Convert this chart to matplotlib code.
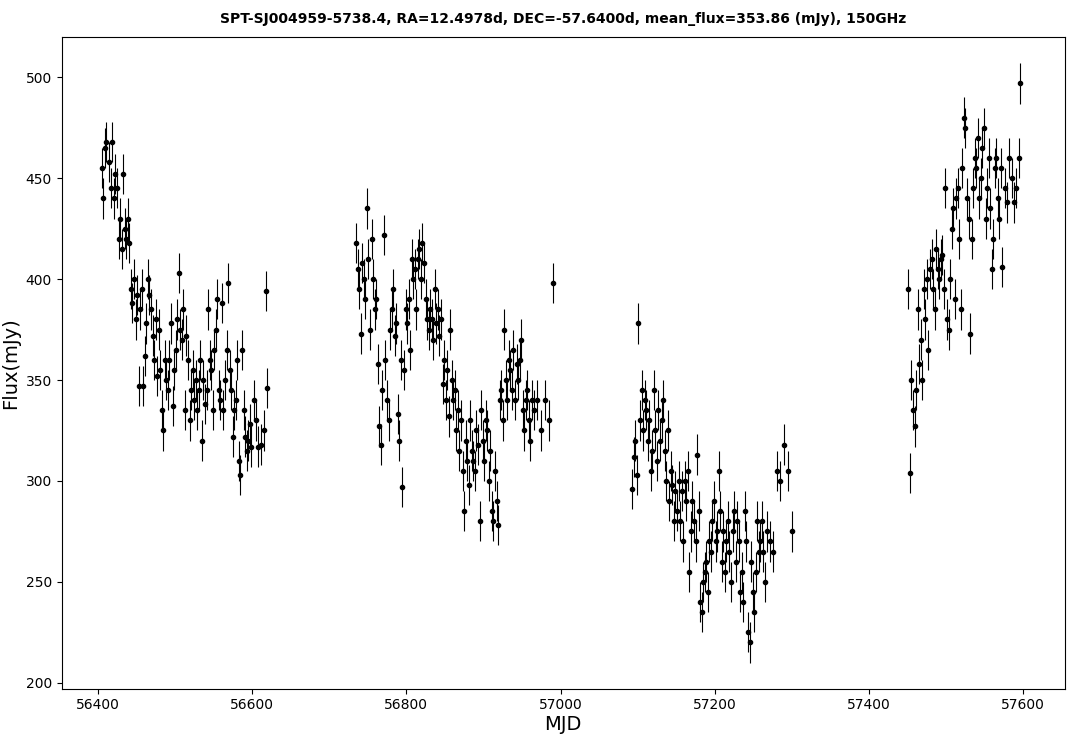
import numpy as np
import matplotlib.pyplot as plt

# ---------------- data ----------------
mjd_1 = [56405, 56407, 56409, 56411, 56414, 56417, 56419, 56421, 56423, 56425, 56427, 56429, 56431, 56433, 56435,
         56437, 56439, 56441, 56443, 56445, 56447, 56449, 56451, 56453, 56455, 56457, 56459, 56461, 56463, 56465,
         56467, 56469, 56471, 56473, 56475, 56477, 56479, 56481, 56483, 56485, 56487, 56489, 56491, 56493, 56495,
         56497, 56499, 56501, 56503, 56505, 56507, 56509, 56511, 56513, 56515, 56517, 56519, 56521, 56523, 56525,
         56527, 56529, 56531, 56533, 56535, 56537, 56539, 56541, 56543, 56545, 56547, 56549, 56551, 56553, 56555,
         56557, 56559, 56561, 56563, 56565, 56567, 56569, 56571, 56573, 56575, 56577, 56579, 56581, 56583, 56585,
         56587, 56589, 56591, 56593, 56595, 56597, 56599, 56602, 56605, 56608, 56612, 56615, 56618, 56620]
flux_1 = [455, 440, 465, 468, 458, 445, 468, 440, 452, 445, 420, 430, 415, 452, 425,
          420, 430, 418, 395, 388, 400, 380, 392, 347, 385, 395, 347, 362, 378, 400,
          392, 385, 372, 360, 380, 352, 375, 355, 335, 325, 360, 350, 345, 360, 378,
          337, 355, 365, 380, 403, 375, 370, 385, 335, 372, 360, 330, 345, 355, 340,
          350, 335, 345, 360, 320, 350, 338, 345, 385, 360, 355, 335, 365, 375, 390,
          345, 340, 388, 335, 350, 365, 398, 355, 345, 322, 335, 340, 360, 310, 303,
          365, 335, 322, 315, 320, 328, 317, 340, 330, 317, 318, 325, 394, 346]

mjd_2 = [56735, 56737, 56739, 56741, 56743, 56745, 56747, 56749, 56751, 56753, 56755, 56757, 56759, 56761, 56763,
         56765, 56767, 56769, 56771, 56773, 56775, 56777, 56779, 56781, 56783, 56785, 56787, 56789, 56791, 56793,
         56795, 56797, 56799, 56801, 56803, 56805, 56807, 56809, 56811, 56813, 56815, 56817, 56819, 56821, 56823,
         56825, 56827, 56829, 56831, 56833, 56835, 56837, 56839, 56841, 56843, 56845, 56847, 56849, 56851, 56853,
         56855, 56857, 56859, 56861, 56863, 56865, 56867, 56869, 56871, 56873, 56875, 56877, 56879, 56881, 56883,
         56885, 56887, 56889, 56891, 56893, 56895, 56897, 56899, 56901, 56903, 56905, 56907, 56909, 56911, 56913,
         56915, 56917, 56919, 56921, 56923, 56925, 56927, 56929, 56931, 56933, 56935, 56937, 56939, 56941, 56943,
         56945, 56947, 56949, 56951, 56953, 56955, 56957, 56959, 56961, 56963, 56965, 56969, 56975, 56980, 56985,
         56990]
flux_2 = [418, 405, 395, 373, 408, 400, 390, 435, 410, 375, 420, 400, 385, 390, 358,
          327, 318, 345, 422, 360, 340, 330, 375, 385, 395, 372, 378, 333, 320, 360,
          297, 355, 385, 378, 390, 365, 410, 400, 405, 385, 410, 415, 400, 418, 408,
          390, 380, 375, 385, 380, 370, 395, 378, 385, 372, 380, 348, 360, 340, 355,
          332, 375, 350, 340, 345, 325, 335, 315, 330, 305, 285, 320, 310, 298, 330,
          315, 310, 305, 325, 318, 280, 335, 320, 310, 330, 325, 300, 315, 285, 280,
          305, 290, 278, 340, 345, 330, 375, 350, 340, 360, 355, 345, 365, 340, 358,
          350, 360, 370, 335, 325, 340, 345, 330, 320, 340, 335, 340, 325, 340, 330,
          398]

mjd_3 = [57093, 57095, 57097, 57099, 57101, 57103, 57105, 57107, 57109, 57111, 57113, 57115, 57117, 57119, 57121,
         57123, 57125, 57127, 57129, 57131, 57133, 57135, 57137, 57139, 57141, 57143, 57145, 57147, 57149, 57151,
         57153, 57155, 57157, 57159, 57161, 57163, 57165, 57167, 57169, 57171, 57173, 57175, 57177, 57179, 57181,
         57183, 57185, 57187, 57189, 57191, 57193, 57195, 57197, 57199, 57201, 57203, 57205, 57207, 57209, 57211,
         57213, 57215, 57217, 57219, 57221, 57223, 57225, 57227, 57229, 57231, 57233, 57235, 57237, 57239, 57241,
         57243, 57245, 57247, 57249, 57251, 57253, 57255, 57257, 57259, 57261, 57263, 57265, 57268, 57272, 57276,
         57280, 57285, 57290, 57295, 57300]
flux_3 = [296, 312, 320, 303, 378, 330, 345, 325, 340, 335, 320, 330, 305, 315, 345,
          325, 310, 335, 320, 330, 340, 315, 300, 325, 290, 305, 298, 280, 295, 285,
          300, 280, 295, 270, 300, 290, 305, 255, 275, 290, 280, 270, 313, 285, 240,
          235, 250, 255, 260, 245, 270, 265, 280, 290, 270, 275, 305, 285, 260, 275,
          255, 270, 280, 265, 250, 275, 285, 260, 280, 270, 245, 255, 240, 285, 270,
          225, 220, 260, 245, 235, 255, 280, 265, 270, 280, 265, 250, 275, 270, 265,
          305, 300, 318, 305, 275]

mjd_4 = [57451, 57453, 57455, 57457, 57459, 57461, 57463, 57465, 57467, 57469, 57471, 57473, 57475, 57477, 57479,
         57481, 57483, 57485, 57487, 57489, 57491, 57493, 57495, 57497, 57499, 57501, 57503, 57505, 57507, 57509,
         57511, 57513, 57515, 57517, 57519, 57521, 57523, 57525, 57527, 57529, 57531, 57533, 57535, 57537, 57539,
         57541, 57543, 57545, 57547, 57549, 57551, 57553, 57555, 57557, 57559, 57561, 57563, 57565, 57567, 57569,
         57571, 57573, 57576, 57579, 57582, 57585, 57588, 57591, 57594, 57596]
flux_4 = [395, 304, 350, 335, 327, 345, 385, 358, 370, 350, 395, 380, 400, 365, 405,
          410, 395, 385, 415, 405, 400, 410, 412, 395, 445, 380, 375, 400, 425, 435,
          390, 440, 445, 420, 385, 455, 480, 475, 440, 430, 373, 420, 445, 460, 455,
          470, 440, 450, 465, 475, 430, 445, 460, 435, 405, 420, 455, 460, 440, 430,
          455, 406, 445, 438, 460, 450, 438, 445, 460, 497]

flux_err = 10  # typical 1-sigma error bar (mJy)

title = 'SPT-SJ004959-5738.4, RA=12.4978d, DEC=-57.6400d, mean_flux=353.86 (mJy), 150GHz'

# ---------------- plotting ----------------
mjd = np.array(mjd_1 + mjd_2 + mjd_3 + mjd_4)
flux = np.array(flux_1 + flux_2 + flux_3 + flux_4)

fig, ax = plt.subplots(figsize=(10.79, 7.39), dpi=100)
plt.subplots_adjust(left=0.057, right=0.987, top=0.95, bottom=0.068)

ax.errorbar(mjd, flux, yerr=flux_err, fmt='o', color='black', markersize=3,
            elinewidth=0.8, capsize=0)

ax.set_xlim(56353, 57654)
ax.set_ylim(197, 520)
ax.set_xticks([56400, 56600, 56800, 57000, 57200, 57400, 57600])
ax.set_yticks([200, 250, 300, 350, 400, 450, 500])
ax.tick_params(labelsize=10, direction='out')

ax.set_xlabel('MJD', fontsize=14, labelpad=2)
ax.set_ylabel('Flux(mJy)', fontsize=14)
ax.set_title(title, fontsize=10, fontweight='bold', pad=10)

plt.savefig('out.png', dpi=100)
